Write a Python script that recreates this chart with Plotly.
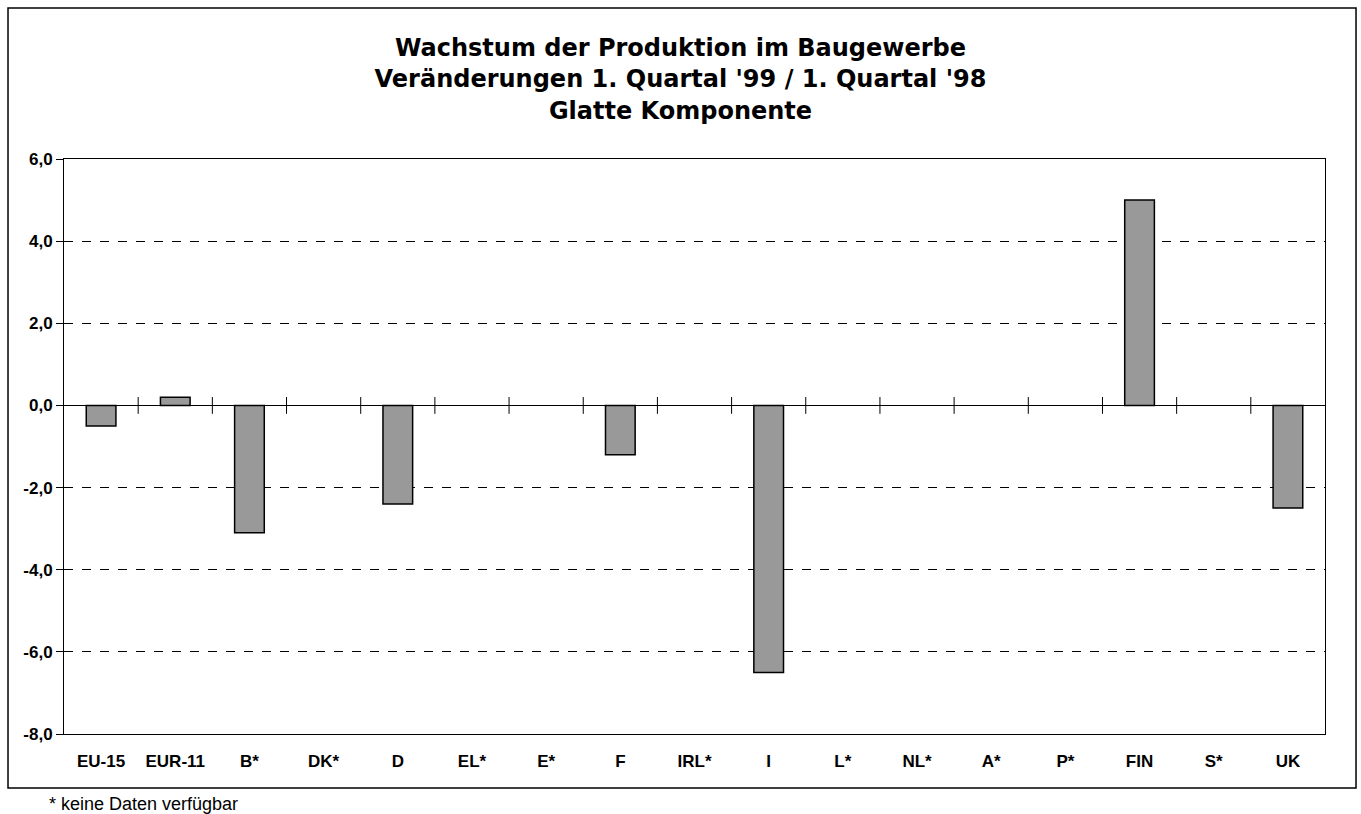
import plotly.graph_objects as go

categories = ["EU-15", "EUR-11", "B*", "DK*", "D", "EL*", "E*", "F", "IRL*", "I",
              "L*", "NL*", "A*", "P*", "FIN", "S*", "UK"]
values = [-0.5, 0.2, -3.1, None, -2.4, None, None, -1.2, None, -6.5,
          None, None, None, None, 5.0, None, -2.5]
y_ticks = [-8, -6, -4, -2, 0, 2, 4, 6]
y_tick_labels = ["-8,0", "-6,0", "-4,0", "-2,0", "0,0", "2,0", "4,0", "6,0"]

idx = list(range(len(categories)))
boundaries = [i + 0.5 for i in idx[:-1]]

FONT = "Liberation Sans, Arial, sans-serif"

fig = go.Figure()
fig.add_trace(go.Bar(
    x=idx, y=values, width=0.4,
    marker=dict(color="#999999", line=dict(color="black", width=1.5)),
    showlegend=False, hoverinfo="skip",
))
# tick marks on the zero line between categories
fig.add_trace(go.Scatter(
    x=boundaries, y=[0] * len(boundaries), mode="markers",
    marker=dict(symbol="line-ns", size=12, line=dict(color="black", width=1)),
    showlegend=False, hoverinfo="skip",
))

fig.update_layout(
    width=1361, height=814,
    margin=dict(l=64, r=36, t=159, b=80),
    paper_bgcolor="white", plot_bgcolor="white",
    font=dict(family=FONT, color="black"),
    title=dict(
        text="<b>Wachstum der Produktion im Baugewerbe<br>Veränderungen 1. Quartal '99 / 1. Quartal '98<br>Glatte Komponente</b>",
        x=0.5, xanchor="center", y=0.931, yanchor="top",
        font=dict(size=24, family="DejaVu Sans, sans-serif", color="black"),
    ),
    xaxis=dict(
        range=[-0.5, len(categories) - 0.5],
        tickmode="array", tickvals=idx, ticktext=[f"<b>{c}</b>" for c in categories],
        showgrid=False, zeroline=False, showline=True, mirror=True,
        linecolor="black", linewidth=1, ticks="",
        tickfont=dict(size=17, family=FONT),
        ticklabelstandoff=12,
    ),
    yaxis=dict(
        range=[-8, 6], tickmode="array", tickvals=y_ticks,
        ticktext=[f"<b>{t}</b>" for t in y_tick_labels],
        showgrid=True, gridcolor="black", griddash="dash", gridwidth=1,
        zeroline=True, zerolinecolor="black", zerolinewidth=1,
        showline=True, linecolor="black", linewidth=1, mirror=True,
        ticks="outside", ticklen=7, tickcolor="black",
        tickfont=dict(size=17, family=FONT),
    ),
    shapes=[dict(
        type="rect", xref="paper", yref="paper",
        x0=-0.0444, x1=1.0246, y0=-0.0939, y1=1.2626,
        line=dict(color="black", width=1.5), fillcolor="rgba(0,0,0,0)",
        layer="below",
    )],
    annotations=[dict(
        text="* keine Daten verfügbar", xref="paper", yref="paper",
        x=-0.0135, y=-0.1, xanchor="left", yanchor="top", showarrow=False,
        font=dict(size=18, family=FONT, color="black"),
    )],
)

fig.write_html("out.html", config={"displayModeBar": False},
               post_script="document.body.style.margin='0';document.body.style.overflow='hidden';")
